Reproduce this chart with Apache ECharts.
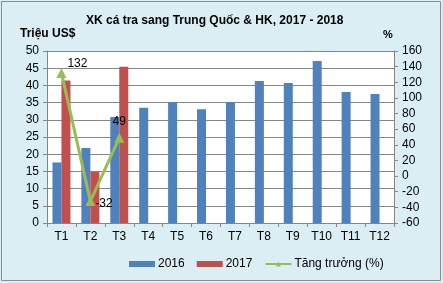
<!DOCTYPE html>
<html><head><meta charset="utf-8">
<script src="https://cdn.jsdelivr.net/npm/echarts@6/dist/echarts.min.js"></script>
<style>html,body{margin:0;padding:0;background:#fff}#c{width:443px;height:283px}</style>
</head><body><div id="c"></div>
<script>
var categories = ['T1','T2','T3','T4','T5','T6','T7','T8','T9','T10','T11','T12'];
var values2016 = [17.6, 21.8, 30.8, 33.5, 35.1, 33.1, 35.1, 41.3, 40.7, 47.1, 38.1, 37.5];
var values2017 = [41.4, 14.9, 45.4];
var growth = [132, -32, 49];
var seriesNames = ['2016', '2017', 'Tăng trưởng (%)'];

var font = 'Liberation Sans, Arial, sans-serif';
var chart = echarts.init(document.getElementById('c'), null, {renderer:'canvas'});
var labelOffsets = [[16,7],[null,null],[0,0]];
chart.setOption({
  animation: false,
  backgroundColor: '#DBEEF4',
  textStyle: {fontFamily: font},
  graphic: [
    {type:'rect', shape:{x:1.5,y:1.5,width:439,height:279}, style:{fill:null, stroke:'#8c8c8c', lineWidth:1}},
    {type:'text', left:20, top:28, style:{text:'Triệu US$', font:'bold 12px ' + font, fill:'#000'}},
    {type:'text', left:383, top:29, style:{text:'%', font:'bold 11px ' + font, fill:'#000'}}
  ],
  title: {text:'XK cá tra sang Trung Quốc & HK, 2017 - 2018', left:86, top:15,
    textStyle:{fontSize:12, fontWeight:'bold', color:'#000', fontFamily:font}, padding:0, itemGap:0},
  legend: {top:258, left:129, itemWidth:26, itemHeight:6, itemGap:12, padding:0,
    textStyle:{fontSize:12, color:'#000', fontFamily:font, padding:[0,0,0,-2]},
    data:[{name:seriesNames[0], icon:'rect'},{name:seriesNames[1], icon:'rect'},{name:seriesNames[2]}]},
  grid: {left:47, right:49, top:51, bottom:60, show:true, backgroundColor:'#fff', borderWidth:0},
  xAxis: {type:'category', data:categories, boundaryGap:true,
    axisLine:{lineStyle:{color:'#868686'}}, axisTick:{show:true, length:4, lineStyle:{color:'#868686'}},
    axisLabel:{color:'#000', fontSize:12, margin:8, fontFamily:font}},
  yAxis: [
    {type:'value', min:0, max:50, interval:5,
      axisLine:{show:true, lineStyle:{color:'#868686'}}, axisTick:{show:true, length:4, lineStyle:{color:'#868686'}},
      splitLine:{lineStyle:{color:'#868686'}},
      axisLabel:{color:'#000', fontSize:12, margin:8, fontFamily:font}},
    {type:'value', min:-60, max:160, interval:20, position:'right',
      axisLine:{show:true, lineStyle:{color:'#868686'}}, axisTick:{show:true, length:4, lineStyle:{color:'#868686'}},
      splitLine:{show:false},
      axisLabel:{color:'#000', fontSize:12, margin:8, fontFamily:font}}
  ],
  series: [
    {name:seriesNames[0], type:'bar', data:values2016, barWidth:9, barGap:'0%', itemStyle:{color:'#4F81BD'}},
    {name:seriesNames[1], type:'bar', data:values2017, barWidth:9, barGap:'0%', itemStyle:{color:'#C0504D'}},
    {name:seriesNames[2], type:'line', yAxisIndex:1, data:growth.map(function(v,i){
        var lo = labelOffsets[i];
        var lab = lo[0]===null ? {position:'right', offset:[-5,3]} : {position:'top', offset:lo};
        return {value:v, label:lab};
      }),
      symbol:'triangle', symbolSize:10, lineStyle:{color:'#9BBB59', width:3}, itemStyle:{color:'#9BBB59'},
      label:{show:true, color:'#000', fontSize:12, fontFamily:font}}
  ]
});
</script></body></html>
